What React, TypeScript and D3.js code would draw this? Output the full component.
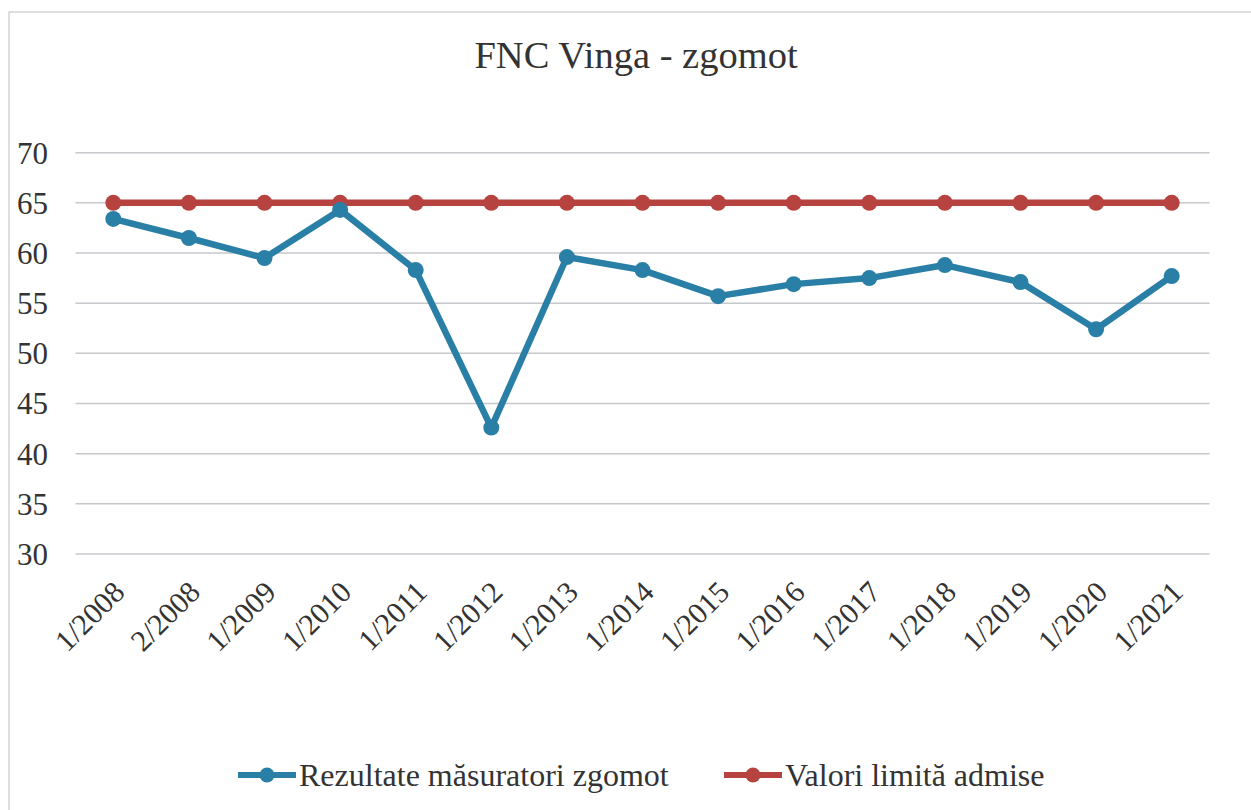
import * as d3 from "d3";
import { useEffect, useRef } from "react";

const categories = [
  "1/2008", "2/2008", "1/2009", "1/2010", "1/2011", "1/2012", "1/2013", "1/2014",
  "1/2015", "1/2016", "1/2017", "1/2018", "1/2019", "1/2020", "1/2021",
];
const measured = [63.4, 61.5, 59.5, 64.3, 58.3, 42.6, 59.6, 58.3, 55.7, 56.9, 57.5, 58.8, 57.1, 52.4, 57.7];
const limit = [65, 65, 65, 65, 65, 65, 65, 65, 65, 65, 65, 65, 65, 65, 65];
const yTicks = [30, 35, 40, 45, 50, 55, 60, 65, 70];

const title = "FNC Vinga - zgomot";
const seriesNames = ["Rezultate măsuratori zgomot", "Valori limită admise"];
const colors = ["#2a7fa6", "#b6433f"];

export default function App() {
  const ref = useRef<SVGSVGElement>(null);

  useEffect(() => {
    const svg = d3.select(ref.current);
    svg.selectAll("*").remove();

    const width = 1251,
      height = 810;
    const font = "Liberation Serif";

    // chart border
    svg.append("rect")
      .attr("x", 9)
      .attr("y", 12)
      .attr("width", width + 10)
      .attr("height", height + 10)
      .attr("fill", "white")
      .attr("stroke", "#d4d4d8")
      .attr("stroke-width", 1.5);

    const x = d3.scaleBand().domain(categories).range([75.5, 1209.5]).padding(0);
    const y = d3.scaleLinear().domain([30, 70]).range([554, 152.7]);
    const cx = (c: string) => (x(c) ?? 0) + x.bandwidth() / 2;

    // title
    svg.append("text")
      .attr("x", 636)
      .attr("y", 68)
      .attr("text-anchor", "middle")
      .style("font-family", font)
      .style("font-size", "38.5px")
      .attr("fill", "#333")
      .text(title);

    // gridlines
    svg.append("g")
      .selectAll("line")
      .data(yTicks)
      .join("line")
      .attr("x1", 75.5)
      .attr("x2", 1209.5)
      .attr("y1", (d) => y(d))
      .attr("y2", (d) => y(d))
      .attr("stroke", "#c6c8cc")
      .attr("stroke-width", 1.5);

    // y labels
    svg.append("g")
      .selectAll("text")
      .data(yTicks)
      .join("text")
      .attr("x", 48)
      .attr("y", (d) => y(d))
      .attr("dy", "0.35em")
      .attr("text-anchor", "end")
      .style("font-family", font)
      .style("font-size", "31px")
      .attr("fill", "#333")
      .text((d) => d);

    // x labels
    svg.append("g")
      .selectAll("text")
      .data(categories)
      .join("text")
      .attr("transform", (d) => `translate(${cx(d) + 13},${594}) rotate(-45)`)
      .attr("text-anchor", "end")
      .style("font-family", font)
      .style("font-size", "30px")
      .attr("fill", "#333")
      .text((d) => d);

    // series
    const line = d3
      .line<number>()
      .x((d, i) => cx(categories[i]))
      .y((d) => y(d));

    [limit, measured].forEach((vals, k) => {
      const color = k === 0 ? colors[1] : colors[0];
      svg.append("path")
        .datum(vals)
        .attr("d", line)
        .attr("fill", "none")
        .attr("stroke", color)
        .attr("stroke-width", 6.5)
        .attr("stroke-linejoin", "round");
      svg.append("g")
        .selectAll("circle")
        .data(vals)
        .join("circle")
        .attr("cx", (d, i) => cx(categories[i]))
        .attr("cy", (d) => y(d))
        .attr("r", 8)
        .attr("fill", color);
    });

    // legend
    const legend = [
      { name: seriesNames[0], color: colors[0], x0: 238 },
      { name: seriesNames[1], color: colors[1], x0: 724 },
    ];
    const lg = svg.append("g");
    legend.forEach((l) => {
      lg.append("line")
        .attr("x1", l.x0)
        .attr("x2", l.x0 + 58)
        .attr("y1", 775)
        .attr("y2", 775)
        .attr("stroke", l.color)
        .attr("stroke-width", 6);
      lg.append("circle")
        .attr("cx", l.x0 + 29)
        .attr("cy", 775)
        .attr("r", 7.5)
        .attr("fill", l.color);
      lg.append("text")
        .attr("x", l.x0 + 61)
        .attr("y", 786)
        .style("font-family", font)
        .style("font-size", "32px")
        .attr("fill", "#333")
        .text(l.name);
    });
  }, []);

  return (
    <svg
      ref={ref}
      width={1251}
      height={810}
      style={{ position: "absolute", left: 0, top: 0, background: "white" }}
    ></svg>
  );
}
